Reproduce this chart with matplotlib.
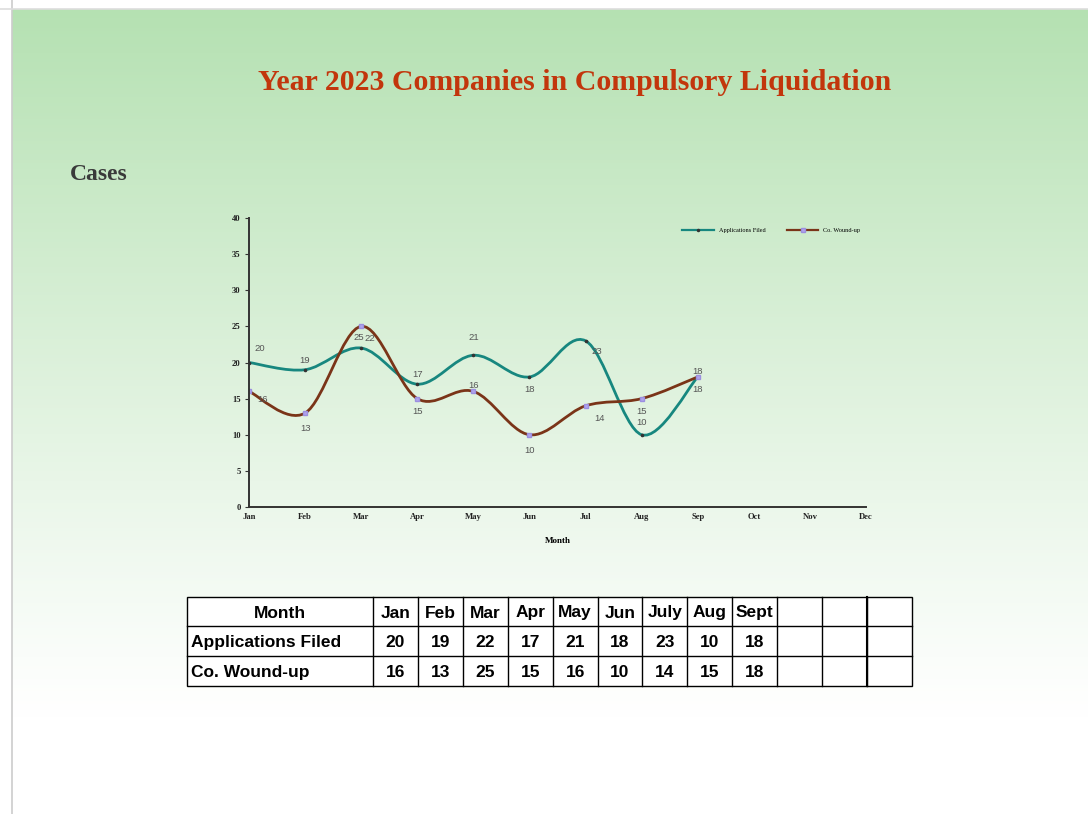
import numpy as np
import matplotlib.pyplot as plt
from matplotlib.path import Path
from matplotlib.patches import PathPatch
from matplotlib.lines import Line2D

# data
months = ['Jan', 'Feb', 'Mar', 'Apr', 'May', 'Jun', 'Jul', 'Aug', 'Sep', 'Oct', 'Nov', 'Dec']
table_months = ['Jan', 'Feb', 'Mar', 'Apr', 'May', 'Jun', 'July', 'Aug', 'Sept', '', '', '']
applications = [20, 19, 22, 17, 21, 18, 23, 10, 18]
wound_up = [16, 13, 25, 15, 16, 10, 14, 15, 18]

# label offsets in points (dx, dy)
app_off = [(8, 10), (0, 7), (6, 7), (0, 7), (0, 13), (0, -9), (8, -8), (0, 9), (0, -9)]
wnd_off = [(10, -6), (0, -11), (-2, -8), (0, -9), (0, 4), (0, -11), (10, -9), (0, -9), (0, 4)]

teal = '#17877f'
brown = '#7a3418'

fig = plt.figure(figsize=(10.88, 8.14), dpi=100)

# background gradient
bg = fig.add_axes([0, 0, 1, 1], zorder=-10)
grad = np.linspace(0, 1, 256)[:, None]
top = np.array([181, 225, 178]) / 255
img = np.ones((256, 1, 3))
frac = np.clip(1 - grad / 0.88, 0, 1) ** 1.1
img[:, 0, :] = 1 - (1 - top) * frac
bg.imshow(img, aspect='auto', extent=[12 / 1088, 1, 0, 1 - 9 / 814])
bg.set_xlim(0, 1)
bg.set_ylim(0, 1)
bg.axvline(12 / 1088, color='#cccccc', lw=1.2)
bg.axhline(1 - 9 / 814, color='#dddddd', lw=1.2)
bg.axis('off')

fig.text(575 / 1088, 1 - 83 / 814, 'Year 2023 Companies in Compulsory Liquidation',
         ha='center', va='center', family='Liberation Serif', weight='bold',
         fontsize=21.5, color='#c2360c')
fig.text(70 / 1088, 1 - 175 / 814, 'Cases', ha='left', va='center',
         family='Liberation Serif', weight='bold', fontsize=17, color='#3a3a3a')

ax = fig.add_axes([249 / 1088, 1 - 507 / 814, 617 / 1088, 289 / 814])
ax.patch.set_alpha(0)


def smooth_path(xs, ys):
    pts = np.column_stack([xs, ys]).astype(float)
    n = len(pts)
    verts = [pts[0]]
    codes = [Path.MOVETO]
    for i in range(n - 1):
        p0 = pts[max(i - 1, 0)]
        p1 = pts[i]
        p2 = pts[i + 1]
        p3 = pts[min(i + 2, n - 1)]
        c1 = p1 + (p2 - p0) / 6
        c2 = p2 - (p3 - p1) / 6
        verts += [c1, c2, p2]
        codes += [Path.CURVE4] * 3
    return Path(verts, codes)


x = np.arange(len(applications))
ax.add_patch(PathPatch(smooth_path(x, applications), fill=False, ec=teal, lw=2))
ax.add_patch(PathPatch(smooth_path(x, wound_up), fill=False, ec=brown, lw=2))
ax.plot(x, applications, ls='none', marker='o', ms=1.6, color='#333333')
ax.plot(x, wound_up, ls='none', marker='s', ms=2.4, color='#b0a4ec', mec='#9c8fe0')

for xi, v, (dx, dy) in zip(x, applications, app_off):
    ax.annotate(str(v), (xi, v), xytext=(dx, dy), textcoords='offset points',
                ha='center', va='center', fontsize=6.8, color='#555555',
                family='Liberation Sans')
for xi, v, (dx, dy) in zip(x, wound_up, wnd_off):
    ax.annotate(str(v), (xi, v), xytext=(dx, dy), textcoords='offset points',
                ha='center', va='center', fontsize=6.8, color='#555555',
                family='Liberation Sans')

ax.set_xlim(0, 11)
ax.set_ylim(0, 40)
ax.set_xticks(range(12))
ax.set_xticklabels(months)
ax.set_yticks(range(0, 41, 5))
for s in ['top', 'right']:
    ax.spines[s].set_visible(False)
for s in ['left', 'bottom']:
    ax.spines[s].set_color('#333333')
    ax.spines[s].set_linewidth(1.4)
ax.tick_params(axis='x', length=0, pad=4, labelsize=6.2, labelcolor='#222222')
ax.tick_params(axis='y', length=3, pad=3, labelsize=6.2, labelcolor='#222222', color='#333333')
for lab in ax.get_xticklabels() + ax.get_yticklabels():
    lab.set_family('Liberation Serif')
    lab.set_weight('bold')
ax.set_xlabel('Month', family='Liberation Serif', fontsize=6.5, weight='bold', labelpad=12)

handles = [Line2D([], [], color=teal, lw=1.6, marker='o', ms=1.5, mfc='#333333', mec='#333333'),
           Line2D([], [], color=brown, lw=1.6, marker='s', ms=2.2, mfc='#b0a4ec', mec='#9c8fe0')]
ax.legend(handles, ['Applications Filed', 'Co. Wound-up'], loc='upper right',
          bbox_to_anchor=(1.0, 0.985), ncol=2, frameon=False,
          prop={'family': 'Liberation Serif', 'size': 4.5},
          handlelength=5, columnspacing=3.5)

# data table
tab = fig.add_axes([187 / 1088, 1 - 686 / 814, 725 / 1088, 89 / 814])
tab.set_xlim(187, 912)
tab.set_ylim(686, 597)
tab.axis('off')
col_edges = [187] + list(np.linspace(373, 912, 13))
row_edges = [597, 626, 656, 686]
tab.add_patch(plt.Rectangle((187, 597), 725, 89, fc='white', ec='black', lw=1, clip_on=False))
for cx in col_edges[1:-1]:
    tab.plot([cx, cx], [597, 686], color='black', lw=1, clip_on=False)
for ry in row_edges[1:-1]:
    tab.plot([187, 912], [ry, ry], color='black', lw=1, clip_on=False)
tab.plot([867, 867], [597, 686], color='black', lw=1.5, clip_on=False)

tfont = dict(family='Liberation Sans', weight='bold', fontsize=12.5)
rows = [['Month'] + table_months,
        ['Applications Filed'] + [str(v) for v in applications] + [''] * 3,
        ['Co. Wound-up'] + [str(v) for v in wound_up] + [''] * 3]
for r, row in enumerate(rows):
    yc = (row_edges[r] + row_edges[r + 1]) / 2 + 1.5
    for c, txt in enumerate(row):
        if c == 0:
            if r == 0:
                tab.text(280, yc, txt, ha='center', va='center', **tfont)
            else:
                tab.text(191, yc, txt, ha='left', va='center', **tfont)
        else:
            xc = (col_edges[c] + col_edges[c + 1]) / 2
            tab.text(xc, yc, txt, ha='center', va='center', **tfont)

fig.savefig('out.png', dpi=100)
